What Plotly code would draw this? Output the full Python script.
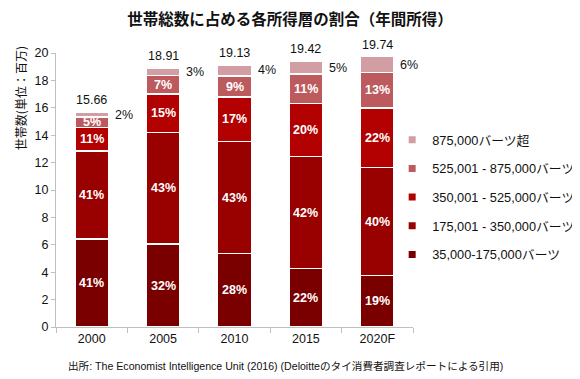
import plotly.graph_objects as go

years = ["2000", "2005", "2010", "2015", "2020F"]
totals = [15.66, 18.91, 19.13, 19.42, 19.74]

series_names = [
    "35,000-175,000バーツ",
    "175,001 - 350,000バーツ",
    "350,001 - 525,000バーツ",
    "525,001 - 875,000バーツ",
    "875,000バーツ超",
]
s1 = [6.42, 6.05, 5.36, 4.27, 3.75]
s2 = [6.42, 8.13, 8.17, 8.16, 7.90]
s3 = [1.72, 2.84, 3.25, 3.88, 4.34]
s4 = [0.78, 1.32, 1.55, 2.14, 2.57]
s5 = [0.31, 0.57, 0.80, 0.97, 1.18]

p1 = ["41%", "32%", "28%", "22%", "19%"]
p2 = ["41%", "43%", "43%", "42%", "40%"]
p3 = ["11%", "15%", "17%", "20%", "22%"]
p4 = ["5%", "7%", "9%", "11%", "13%"]
p5 = ["2%", "3%", "4%", "5%", "6%"]

colors = ["#7a0000", "#990000", "#b30000", "#bc5a5e", "#d29ea3"]

FONT = "Liberation Sans, Arial, Noto Sans CJK JP, sans-serif"
JFONT = "Noto Sans CJK JP, sans-serif"

# the page body adds an 8px offset, so the figure is laid out 8px up/left
W, H = 584, 371
L, T = 48, 45
PW, PH = 368.5, 274

xpos = list(range(len(years)))

fig = go.Figure()
values = [s1, s2, s3, s4, s5]
for name, vals, col in zip(series_names, values, colors):
    fig.add_trace(go.Bar(
        x=xpos, y=vals, name=name,
        marker=dict(color=col, line=dict(color="white", width=1.5)),
        width=0.47, showlegend=False,
        hoverinfo="skip",
    ))
# legend entries (top-to-bottom: highest income first)
for name, col in reversed(list(zip(series_names, colors))):
    fig.add_trace(go.Scatter(
        x=[None], y=[None], mode="markers", name=name,
        marker=dict(symbol="square", size=7, color=col),
        legendgroup=name, showlegend=True,
    ))

annotations = []
inside = [p1, p2, p3, p4]
for i in xpos:
    cum = 0.0
    for k, lab in enumerate(inside):
        v = values[k][i]
        annotations.append(dict(
            x=i, y=cum + v / 2, text=f"<b>{lab[i]}</b>", showarrow=False,
            xanchor="center", yanchor="middle",
            font=dict(size=12.5, color="white", family=FONT),
        ))
        cum += v
    annotations.append(dict(
        x=i, y=cum + s5[i] / 2, text=p5[i], showarrow=False,
        xanchor="left", yanchor="middle", xshift=21,
        font=dict(size=12.5, color="#111", family=FONT),
    ))
    annotations.append(dict(
        x=i, y=totals[i], text=f"{totals[i]:.2f}", showarrow=False,
        xanchor="center", yanchor="bottom", yshift=3,
        font=dict(size=12.5, color="#111", family=FONT),
    ))
annotations.append(dict(
    xref="paper", yref="paper", x=(293 - 56) / PW, y=-(366 - 327) / PH,
    text="出所: The Economist Intelligence Unit (2016) (Deloitteのタイ消費者調査レポートによる引用)",
    showarrow=False, xanchor="center", yanchor="middle",
    font=dict(size=10.6, color="#111", family=FONT),
))
annotations.append(dict(
    xref="paper", yref="paper", x=-(56 - 19) / PW, y=(327 - 98) / PH,
    text="世帯数(単位：百万)", textangle=-90,
    showarrow=False, xanchor="center", yanchor="middle",
    font=dict(size=12, color="#111", family=JFONT),
))

fig.update_layout(
    width=W, height=H,
    barmode="stack",
    paper_bgcolor="white", plot_bgcolor="white",
    margin=dict(l=L, r=W - L - PW, t=T, b=H - T - PH),
    font=dict(family=FONT, color="#111"),
    title=dict(
        text="<b>世帯総数に占める各所得層の割合（年間所得）</b>",
        x=282 / W, xref="container", xanchor="center",
        y=1 - 12 / H, yref="container", yanchor="middle",
        font=dict(size=15.5, family=JFONT, color="#111"),
    ),
    xaxis=dict(
        type="linear", range=[-0.5, len(years) - 0.5],
        tickmode="array", tickvals=xpos, ticktext=years,
        showline=True, linecolor="#bfbfbf", linewidth=1,
        ticks="", automargin=False,
        minor=dict(tickmode="array", tickvals=[i - 0.5 for i in range(len(years) + 1)],
                   ticks="outside", ticklen=5, tickcolor="#bfbfbf", showgrid=False),
        tickfont=dict(size=12.5, color="#111", family=FONT),
        showgrid=False, zeroline=False,
    ),
    yaxis=dict(
        range=[0, 20], dtick=2, automargin=False,
        showline=True, linecolor="#bfbfbf", linewidth=1,
        ticks="outside", ticklen=4, tickcolor="#bfbfbf",
        tickfont=dict(size=12.5, color="#111", family=FONT),
        showgrid=False, zeroline=False,
    ),
    legend=dict(
        traceorder="grouped", tracegroupgap=9,
        x=(395 - L) / PW, xanchor="left",
        y=(327 - 125) / PH, yanchor="top",
        bgcolor="rgba(0,0,0,0)",
        font=dict(size=12.8, family=FONT, color="#111"),
        itemwidth=30,
    ),
    annotations=annotations,
    showlegend=True,
)

fig.write_html("out.html")
